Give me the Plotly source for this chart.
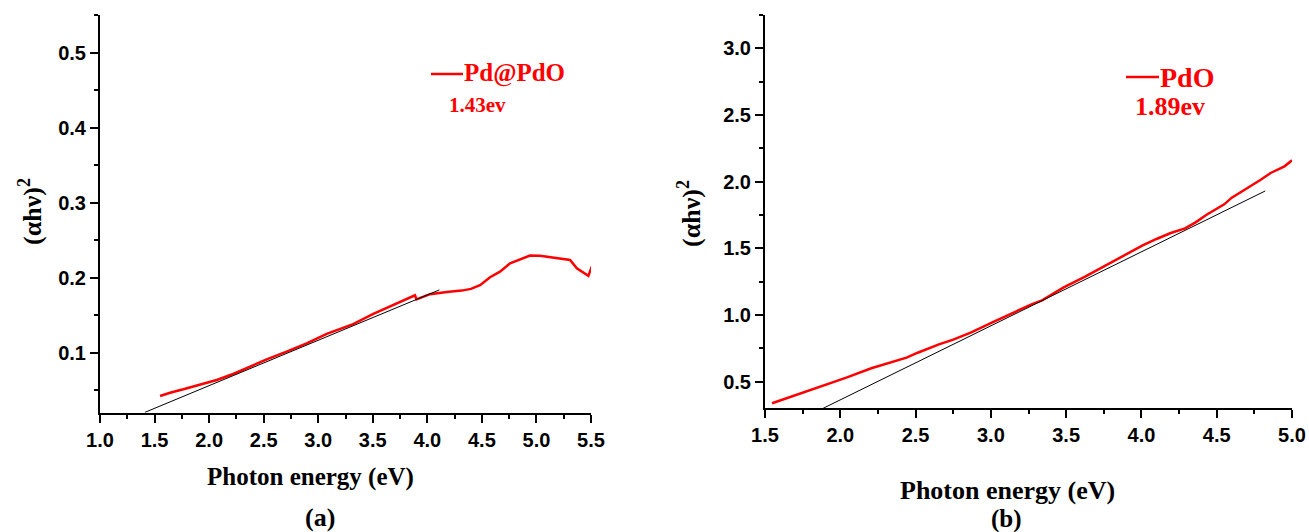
import plotly.graph_objects as go

W, H = 1309, 532

# ---------------- Panel (a): Pd@PdO ----------------
a_energy = [1.55, 1.65, 1.764, 1.917, 2.07, 2.22, 2.375, 2.528, 2.71, 2.894, 3.078,
            3.32, 3.505, 3.689, 3.887, 3.90, 4.025, 4.178, 4.315, 4.40, 4.483, 4.575,
            4.666, 4.758, 4.85, 4.941, 5.033, 5.125, 5.216, 5.308, 5.37, 5.43, 5.476, 5.507]
a_signal = [0.0423, 0.0470, 0.0512, 0.0569, 0.0636, 0.0716, 0.0813, 0.0911, 0.1013, 0.1125, 0.1250,
            0.1380, 0.1516, 0.1636, 0.1765, 0.1710, 0.1780, 0.1810, 0.1827, 0.1850, 0.1900, 0.2005,
            0.2080, 0.2190, 0.2245, 0.2294, 0.2290, 0.2270, 0.2260, 0.2236, 0.2125, 0.2070, 0.2023, 0.2147]
a_fit_energy = [1.412, 4.11]
a_fit_signal = [0.0205, 0.1836]

# ---------------- Panel (b): PdO ----------------
b_energy = [1.547, 1.708, 1.898, 2.04, 2.206, 2.348, 2.44, 2.51, 2.655, 2.75, 2.87,
            3.01, 3.153, 3.27, 3.34, 3.484, 3.626, 3.768, 3.887, 4.005, 4.10, 4.195,
            4.29, 4.36, 4.43, 4.55, 4.60, 4.69, 4.787, 4.858, 4.95, 5.0]
b_signal = [0.3375, 0.40, 0.47, 0.53, 0.60, 0.65, 0.68, 0.715, 0.78, 0.815, 0.87,
            0.945, 1.02, 1.08, 1.11, 1.2075, 1.2875, 1.375, 1.45, 1.52, 1.57, 1.615,
            1.65, 1.695, 1.75, 1.83, 1.88, 1.94, 2.01, 2.065, 2.115, 2.16]
b_fit_energy = [1.886, 4.822]
b_fit_signal = [0.30, 1.93]

a_label, a_gap = "Pd@PdO", "1.43ev"
b_label, b_gap = "PdO", "1.89ev"
x_title = "Photon energy (eV)"
y_title = "(αhν)<sup>2</sup>"

RED = "#ff0000"
SERIF = "Liberation Serif, Times New Roman, serif"
SANS = "Liberation Sans, Arial, sans-serif"

fig = go.Figure()
fig.add_trace(go.Scatter(x=a_energy, y=a_signal, mode="lines",
                         line=dict(color=RED, width=2.5), xaxis="x", yaxis="y",
                         showlegend=False))
fig.add_trace(go.Scatter(x=a_fit_energy, y=a_fit_signal, mode="lines",
                         line=dict(color="black", width=1), xaxis="x", yaxis="y",
                         showlegend=False))
fig.add_trace(go.Scatter(x=b_energy, y=b_signal, mode="lines",
                         line=dict(color=RED, width=2.5), xaxis="x2", yaxis="y2",
                         showlegend=False))
fig.add_trace(go.Scatter(x=b_fit_energy, y=b_fit_signal, mode="lines",
                         line=dict(color="black", width=1), xaxis="x2", yaxis="y2",
                         showlegend=False))


def ax(**kw):
    d = dict(showline=True, linecolor="black", linewidth=2, mirror=False,
             showgrid=False, zeroline=False, ticks="outside", ticklen=8,
             tickwidth=2, tickcolor="black", automargin=False,
             tickfont=dict(family=SANS, size=20, color="black", weight="bold"))
    d.update(kw)
    return d


def px(x):
    return x / W


def py(y):
    return 1 - y / H


def minor(dt):
    return dict(dtick=dt, tick0=0, ticks="outside", ticklen=4,
                tickwidth=2, tickcolor="black")


fig.update_layout(
    width=W, height=H,
    margin=dict(l=0, r=0, t=0, b=0, pad=0, autoexpand=False),
    paper_bgcolor="white", plot_bgcolor="white",
    xaxis=ax(domain=[px(100), px(591)], range=[1.0, 5.5], dtick=0.5, tick0=0,
             tickformat=".1f", anchor="y", minor=minor(0.25)),
    yaxis=ax(domain=[py(412.7), py(15)], range=[0.02, 0.55], dtick=0.1, tick0=0,
             tickformat=".1f", anchor="x", minor=minor(0.05)),
    xaxis2=ax(domain=[px(765), px(1292)], range=[1.5, 5.0], dtick=0.5, tick0=0,
              tickformat=".1f", anchor="y2", minor=minor(0.25)),
    yaxis2=ax(domain=[py(408.3), py(15)], range=[0.3, 3.25], dtick=0.5, tick0=0,
              tickformat=".1f", anchor="x2", minor=minor(0.25)),
)

anns = []


def ann(text, x, y, size, color="black", xanchor="center", yanchor="middle", angle=0):
    anns.append(dict(text=text, x=px(x), y=py(y), xref="paper", yref="paper",
                     xanchor=xanchor, yanchor=yanchor, showarrow=False,
                     textangle=angle, borderpad=0,
                     font=dict(family=SERIF, size=size, color=color, weight="bold")))


# axis titles
ann(x_title, 310, 477, 25)
ann("(a)", 320, 517, 26)
ann(x_title, 1007, 490, 26)
ann("(b)", 1006, 519, 25)
ann(y_title, 30, 212, 26, angle=-90)
ann(y_title, 690, 214, 26, angle=-90)

# legends
ann(a_label, 463, 73, 25, color=RED, xanchor="left")
ann(a_gap, 448, 105, 21, color=RED, xanchor="left")
ann(b_label, 1159, 77, 28, color=RED, xanchor="left")
ann(b_gap, 1134, 106, 26, color=RED, xanchor="left")

fig.update_layout(annotations=anns)

shapes = [
    dict(type="line", xref="paper", yref="paper", x0=px(431), x1=px(463),
         y0=py(74), y1=py(74), line=dict(color=RED, width=2.5)),
    dict(type="line", xref="paper", yref="paper", x0=px(1126), x1=px(1159),
         y0=py(77), y1=py(77), line=dict(color=RED, width=2.5)),
]
fig.update_layout(shapes=shapes)

fig.write_html("out.html")
